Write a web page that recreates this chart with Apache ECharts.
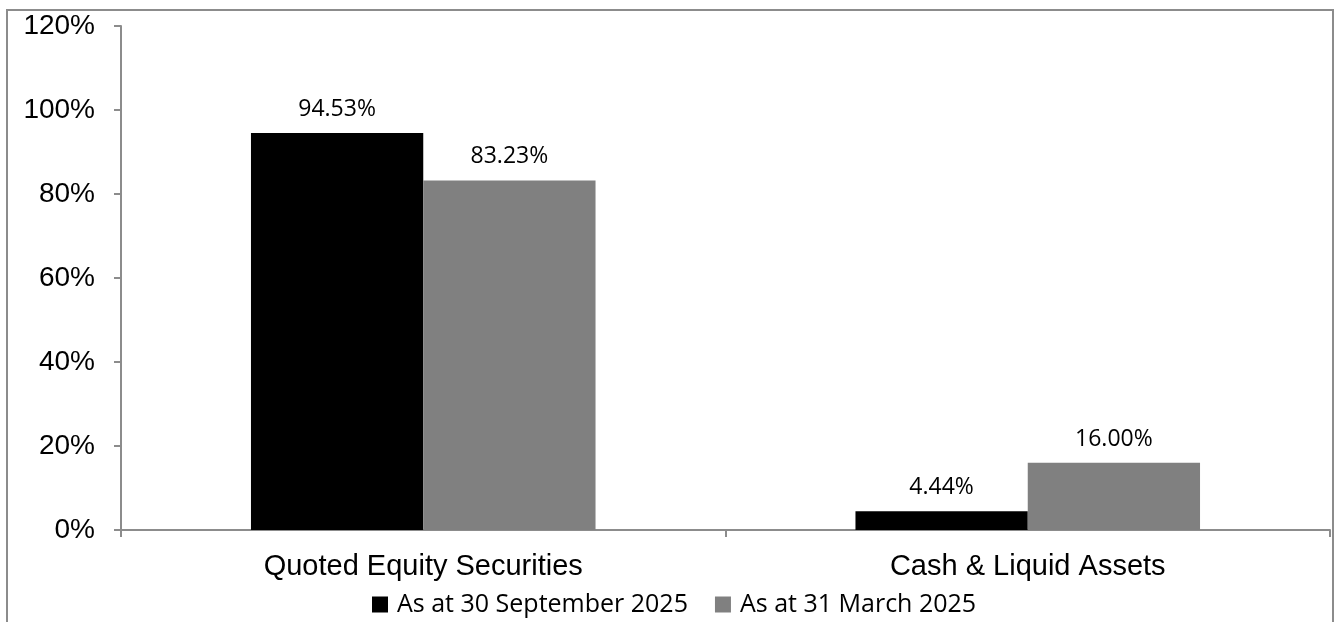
<!DOCTYPE html>
<html>
<head>
<meta charset="utf-8">
<script src="https://cdn.jsdelivr.net/npm/echarts@6/dist/echarts.min.js"></script>
<style>
  html, body { margin: 0; padding: 0; background: #fff; }
  .frame {
    position: absolute; left: 6px; top: 9px; width: 1324px; height: 640px;
    border: 2px solid #8c8c8c; border-bottom: none;
  }
  #chart { position: absolute; left: 0; top: 0; width: 1338px; height: 622px; }
</style>
</head>
<body>
<div class="frame"></div>
<div id="chart"></div>
<script>
  // 数据
  var categories = ["Quoted Equity Securities", "Cash & Liquid Assets"];
  var seriesNames = ["As at 30 September 2025", "As at 31 March 2025"];
  var sep2025 = [94.53, 4.44];
  var mar2025 = [83.23, 16.0];
  var yTicks = [0, 20, 40, 60, 80, 100, 120];

  var axisColor = "#8c8c8c";

  var chart = echarts.init(document.getElementById("chart"));
  var labelStyle = {
    show: true,
    position: "top",
    distance: 12,
    color: "#000",
    fontFamily: "Open Sans",
    fontSize: 23,
    formatter: function (p) {
      return p.value.toFixed(2) + "%";
    },
  };

  chart.setOption({
    animation: false,
    backgroundColor: "transparent",
    color: ["#000000", "#808080"],
    legend: {
      top: 587,
      left: 367,
      itemWidth: 16,
      itemHeight: 16,
      itemGap: 27,
      icon: "rect",
      textStyle: { color: "#000", fontFamily: "Open Sans", fontSize: 25, padding: [0, 0, 0, 4] },
      data: seriesNames,
    },
    grid: { left: 121, right: 8, top: 26, bottom: 92 },
    xAxis: {
      type: "category",
      data: categories,
      axisLine: { lineStyle: { color: axisColor, width: 2 } },
      axisTick: { show: true, length: 7, lineStyle: { color: axisColor, width: 2 } },
      axisLabel: {
        color: "#000",
        fontFamily: "Liberation Sans",
        fontSize: 29,
        margin: 22,
      },
    },
    yAxis: {
      type: "value",
      min: yTicks[0],
      max: yTicks[yTicks.length - 1],
      interval: 20,
      splitLine: { show: false },
      axisLine: { show: true, lineStyle: { color: axisColor, width: 2 } },
      axisTick: { show: true, length: 7, lineStyle: { color: axisColor, width: 2 } },
      axisLabel: {
        color: "#000",
        fontFamily: "Liberation Sans",
        fontSize: 28,
        margin: 26,
        formatter: "{value}%",
      },
    },
    series: [
      {
        name: seriesNames[0],
        type: "bar",
        barGap: "0%",
        barCategoryGap: "43%",
        label: labelStyle,
        data: sep2025,
      },
      {
        name: seriesNames[1],
        type: "bar",
        barGap: "0%",
        barCategoryGap: "43%",
        label: labelStyle,
        data: mar2025,
      },
    ],
  });
</script>
</body>
</html>
